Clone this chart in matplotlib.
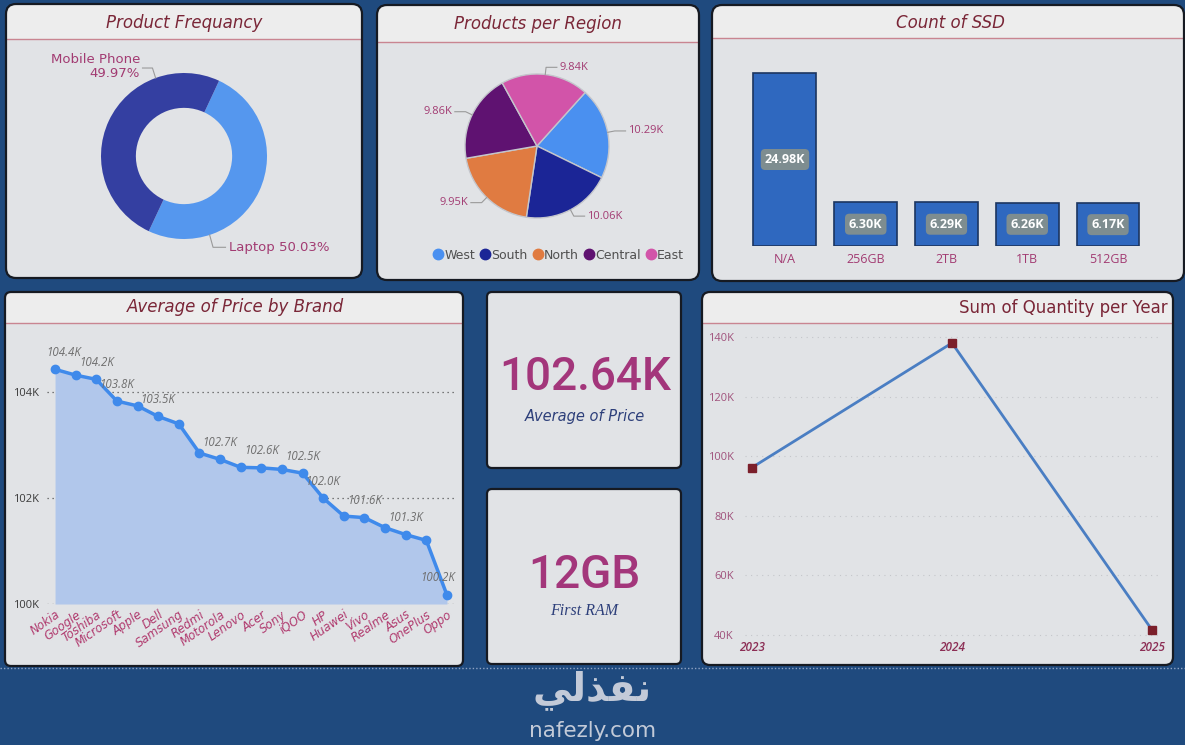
import matplotlib
matplotlib.use('Agg')
import matplotlib.pyplot as plt
from matplotlib.patches import FancyBboxPatch, Rectangle
from matplotlib.lines import Line2D
import numpy as np

# ---------------- data ----------------
freq_labels = ['Laptop', 'Mobile Phone']
freq_values = [50.03, 49.97]

regions = ['West', 'South', 'North', 'Central', 'East']
region_values = [10.29, 10.06, 9.95, 9.86, 9.84]

ssd_labels = ['N/A', '256GB', '2TB', '1TB', '512GB']
ssd_values = [24.98, 6.30, 6.29, 6.26, 6.17]

brands = ['Nokia', 'Google', 'Toshiba', 'Microsoft', 'Apple', 'Dell', 'Samsung',
          'Redmi', 'Motorola', 'Lenovo', 'Acer', 'Sony', 'iQOO', 'HP', 'Huawei',
          'Vivo', 'Realme', 'Asus', 'OnePlus', 'Oppo']
brand_prices = [104.43, 104.32, 104.24, 103.83, 103.74, 103.54, 103.40, 102.85,
                102.73, 102.58, 102.57, 102.54, 102.47, 102.00, 101.66, 101.63,
                101.44, 101.31, 101.20, 100.17]
price_labelled = [0, 2, 3, 5, 8, 10, 12, 13, 15, 17, 19]

years = ['2023', '2024', '2025']
year_qty = [96.2, 138.0, 41.7]

kpi_avg_price = '102.64K'
kpi_avg_label = 'Average of Price'
kpi_ram = '12GB'
kpi_ram_label = 'First RAM'

# ---------------- styling ----------------
W, H = 1185, 745
BG = '#1F4A7E'
BODY = '#E1E3E6'
BAND = '#EDEDED'
LINE = '#C98591'
TITLE = '#7A2637'
PINK = '#A23B72'
COMIC = 'DejaVu Sans'
SEGOE = 'Open Sans'

fig = plt.figure(figsize=(W / 100, H / 100), dpi=100)
fig.patch.set_facecolor(BG)
bg = fig.add_axes([0, 0, 1, 1], zorder=0)
bg.set_xlim(0, W)
bg.set_ylim(H, 0)
bg.axis('off')


def panel(x0, y0, x1, y1, band=None, r=10):
    p = FancyBboxPatch((x0, y0), x1 - x0, y1 - y0,
                       boxstyle=f'round,pad=0,rounding_size={r}',
                       fc=BODY, ec='none', zorder=1)
    bg.add_patch(p)
    if band is not None:
        rect = Rectangle((x0, y0), x1 - x0, band - y0, fc=BAND, ec='none', zorder=1.5)
        bg.add_patch(rect)
        rect.set_clip_path(p)
        bg.plot([x0 + 1, x1 - 1], [band, band], color=LINE, lw=1, zorder=2)
    b = FancyBboxPatch((x0, y0), x1 - x0, y1 - y0,
                       boxstyle=f'round,pad=0,rounding_size={r}',
                       fc='none', ec='#161A22', lw=1.6, zorder=3)
    bg.add_patch(b)


def axpx(x0, y0, x1, y1):
    a = fig.add_axes([x0 / W, 1 - y1 / H, (x1 - x0) / W, (y1 - y0) / H], zorder=5)
    a.set_facecolor('none')
    return a


# panels
panel(6, 4, 362, 278, band=39)
panel(377, 5, 699, 280, band=42)
panel(712, 5, 1184, 281, band=38)
panel(5, 292, 463, 666, band=323, r=6)
panel(487, 292, 681, 468, r=5)
panel(487, 489, 681, 664, r=5)
panel(702, 292, 1173, 665, band=323, r=8)

# bottom dotted separator
bg.plot([0, W], [668, 668], color='#8FA3C4', lw=1, ls=(0, (1, 1.5)), zorder=1)

# titles
bg.text(184, 23, 'Product Frequancy', ha='center', va='center', fontsize=12,
        style='italic', color=TITLE, family=COMIC, zorder=4)
bg.text(538, 24, 'Products per Region', ha='center', va='center', fontsize=12,
        style='italic', color=TITLE, family=COMIC, zorder=4)
bg.text(950, 23, 'Count of SSD', ha='center', va='center', fontsize=12,
        style='italic', color=TITLE, family=COMIC, zorder=4)
bg.text(235, 307, 'Average of Price by Brand', ha='center', va='center', fontsize=12,
        style='italic', color=TITLE, family=COMIC, zorder=4)
bg.text(1168, 308, 'Sum of Quantity per Year', ha='right', va='center', fontsize=12,
        color=TITLE, family=COMIC, zorder=4)

# ---------------- donut ----------------
ax1 = axpx(101, 73, 267, 239)
ax1.pie(freq_values, colors=['#5597EE', '#343FA1'], startangle=65, counterclock=False,
        radius=1, wedgeprops=dict(width=0.42, edgecolor='none'))
ax1.set_xlim(-1, 1)
ax1.set_ylim(-1, 1)
a = np.deg2rad(110)
ax1.plot([np.cos(a), -0.38, -0.50], [np.sin(a), 1.06, 1.06], color='#9A9A9A', lw=0.8, clip_on=False)
ax1.text(-0.53, 1.08, f'{freq_labels[1]}\n{freq_values[1]:.2f}%', ha='right', va='center',
         fontsize=9.5, color=PINK, family=COMIC, linespacing=1.1, multialignment='right')
a = np.deg2rad(-72)
ax1.plot([np.cos(a), 0.35, 0.50], [np.sin(a), -1.10, -1.10], color='#9A9A9A', lw=0.8, clip_on=False)
ax1.text(0.54, -1.10, f'{freq_labels[0]} {freq_values[0]:.2f}%', ha='left', va='center',
         fontsize=9.5, color=PINK, family=COMIC)

# ---------------- pie ----------------
region_colors = ['#4A90F0', '#1B2596', '#E07B41', '#5F1271', '#D254A9']
ax2 = axpx(465, 74, 609, 218)
wedges, _ = ax2.pie(region_values, colors=region_colors, startangle=48, counterclock=False,
                    wedgeprops=dict(edgecolor='#C4C6CC', linewidth=1))
ax2.set_xlim(-1, 1)
ax2.set_ylim(-1, 1)
for w, v in zip(wedges, region_values):
    mid = np.deg2rad((w.theta1 + w.theta2) / 2)
    c, s = np.cos(mid), np.sin(mid)
    sign = 1 if c >= 0 else -1
    p2 = (1.1 * c, 1.1 * s)
    p3 = (p2[0] + sign * 0.15, p2[1])
    ax2.plot([c, p2[0], p3[0]], [s, p2[1], p3[1]], color='#9A9A9A', lw=0.8, clip_on=False)
    ax2.text(p3[0] + sign * 0.03, p3[1], f'{v:.2f}K', ha='left' if sign > 0 else 'right',
             va='center', fontsize=8, color=PINK, family=SEGOE)
handles = [Line2D([], [], marker='o', ls='none', ms=7.5, mfc=c, mec=c) for c in region_colors]
leg = fig.legend(handles, regions, loc='center', bbox_to_anchor=(558 / W, 1 - 255 / H), ncol=5,
                 frameon=False, handletextpad=0.0, columnspacing=0.3, handlelength=1.0,
                 prop=dict(family=COMIC, size=9), labelcolor='#505050', borderaxespad=0)

# ---------------- SSD bars ----------------
ax3 = axpx(735, 60, 1160, 246)
xs = np.arange(len(ssd_values))
ax3.bar(xs, ssd_values, width=0.78, color='#2F68BF', edgecolor='#1C3560', linewidth=1.2)
for i, v in zip(xs, ssd_values):
    ax3.text(i, v / 2, f'{v:.2f}K', ha='center', va='center', color='white', fontsize=9,
             fontweight='bold', family=SEGOE,
             bbox=dict(boxstyle='round,pad=0.32,rounding_size=0.35', fc='#7E8D90', ec='none'))
ax3.set_xlim(-0.619, 4.644)
ax3.set_ylim(0, 26.86)
ax3.set_xticks(xs, ssd_labels)
ax3.set_yticks([])
ax3.tick_params(axis='x', length=0, pad=5, labelcolor=PINK, labelsize=9)
for t in ax3.get_xticklabels():
    t.set_family(SEGOE)
for sp in ax3.spines.values():
    sp.set_visible(False)

# ---------------- price by brand ----------------
ax4 = axpx(47, 328, 455, 604)
bx = np.arange(len(brands))
ax4.fill_between(bx, brand_prices, 100, color='#B1C7EB', lw=0)
ax4.plot(bx, brand_prices, color='#3F8AEB', lw=2.5, marker='o', ms=6, zorder=3)
ax4.set_xlim(-0.39, 19.39)
ax4.set_ylim(100, 105.21)
ax4.set_yticks([100, 102, 104], ['100K', '102K', '104K'])
ax4.yaxis.grid(True, ls=(0, (1, 3)), color='#555555', lw=0.9)
ax4.set_axisbelow(True)
ax4.tick_params(axis='y', length=0, pad=6, labelcolor='#3A3A3A', labelsize=8)
for t in ax4.get_yticklabels():
    t.set_family(SEGOE)
ax4.set_xticks(bx, brands, rotation=35, ha='right', rotation_mode='anchor')
ax4.tick_params(axis='x', length=0, pad=3, labelcolor='#B03A6E', labelsize=8.5)
for t in ax4.get_xticklabels():
    t.set_family(COMIC)
    t.set_style('italic')
for sp in ax4.spines.values():
    sp.set_visible(False)
for i in price_labelled:
    dx = 9 if i == 0 else (-9 if i == len(brands) - 1 else 0)
    ax4.annotate(f'{brand_prices[i]:.1f}K', (bx[i], brand_prices[i]), xytext=(dx, 17),
                 textcoords='offset pixels', ha='center', va='center', fontsize=8.3,
                 style='italic', color='#6E6E6E', family=SEGOE, zorder=4)

# ---------------- quantity per year ----------------
ax5 = axpx(745, 330, 1160, 640)
yx = np.arange(len(years))
ax5.plot(yx, year_qty, color='#4A7EC3', lw=2, marker='s', ms=6,
         mfc='#7B1F2B', mec='#7B1F2B', zorder=3)
ax5.set_xlim(-0.035, 2.04)
ax5.set_ylim(38.32, 142.35)
yt = [40, 60, 80, 100, 120, 140]
ax5.set_yticks(yt, [f'{t}K' for t in yt])
ax5.yaxis.grid(True, ls=(0, (1, 4)), color='#C4C6CA', lw=0.8)
ax5.set_axisbelow(True)
ax5.tick_params(axis='y', length=0, pad=8, labelcolor='#A0527C', labelsize=8)
for t in ax5.get_yticklabels():
    t.set_family(SEGOE)
ax5.set_xticks(yx, years)
ax5.tick_params(axis='x', length=0, pad=1, labelcolor='#8C2E55', labelsize=8.5)
for t in ax5.get_xticklabels():
    t.set_family(SEGOE)
    t.set_style('italic')
    t.set_fontweight('semibold')
for sp in ax5.spines.values():
    sp.set_visible(False)

# ---------------- KPI cards ----------------
bg.text(585, 377, kpi_avg_price, ha='center', va='center', fontsize=33, color='#A3367B',
        family='Roboto', fontweight='medium', zorder=4)
bg.text(585, 417, kpi_avg_label, ha='center', va='center', fontsize=10.5, style='italic',
        color='#2D3F7A', family=COMIC, zorder=4)
bg.text(584, 575, kpi_ram, ha='center', va='center', fontsize=33, color='#A3367B',
        family='Roboto', fontweight='medium', zorder=4)
bg.text(584, 611, kpi_ram_label, ha='center', va='center', fontsize=11.5, style='italic',
        color='#2D3F7A', family='Liberation Serif', zorder=4)

# ---------------- watermark ----------------
arabic = '\uFEF2\uFEDF\uFEAC\uFED4\uFEE7'
bg.text(592, 690, arabic, ha='center', va='center', fontsize=28, fontweight='bold',
        color='#C3CAD8', family='DejaVu Sans', zorder=4)
bg.text(593, 731, 'nafezly.com', ha='center', va='center', fontsize=15.5,
        color='#C3CAD8', family='DejaVu Sans', zorder=4)

fig.savefig('out.png', dpi=100, facecolor=BG)
